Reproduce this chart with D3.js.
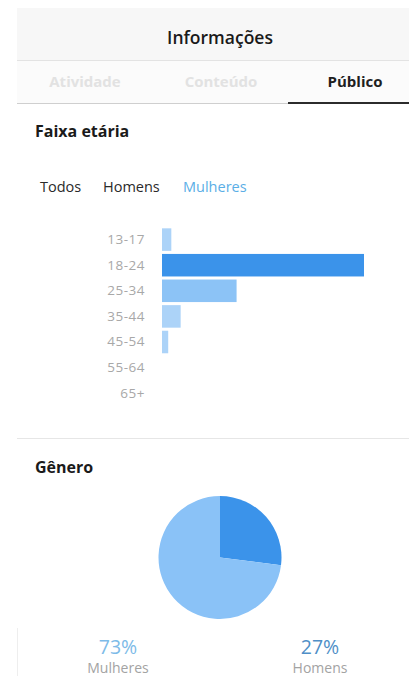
<!DOCTYPE html>
<html><head><meta charset="utf-8">
<script src="https://cdn.jsdelivr.net/npm/d3@7"></script>
<style>
html,body{margin:0;padding:0;background:#fff;}
svg{display:block;font-family:"Open Sans","Noto Sans",sans-serif;}
</style></head>
<body>
<svg id="c" width="409" height="676"></svg>
<script>
// ---- data ----
const tabs = ["Atividade", "Conteúdo", "Público"];
const filters = ["Todos", "Homens", "Mulheres"];
const ageGroups = ["13-17", "18-24", "25-34", "35-44", "45-54", "55-64", "65+"];
const ageValues = [3, 65, 24, 6, 2, 0, 0];
const genders = ["Homens", "Mulheres"];
const genderValues = [27, 73];

const svg = d3.select("#c");

// header
svg.append("rect").attr("x",17).attr("y",8).attr("width",392).attr("height",52).attr("fill","#f7f7f7");
svg.append("rect").attr("x",17).attr("y",60).attr("width",392).attr("height",43).attr("fill","#fbfbfb");
svg.append("line").attr("x1",17).attr("x2",409).attr("y1",60.5).attr("y2",60.5).attr("stroke","#e3e3e3");
svg.append("line").attr("x1",17).attr("x2",409).attr("y1",103.5).attr("y2",103.5).attr("stroke","#cfcfcf");
svg.append("text").attr("x",220).attr("y",44).attr("text-anchor","middle")
  .attr("font-size",17.5).attr("font-weight",600).attr("fill","#1a1a1a").text("Informações");

const tabX = [85, 221, 355];
svg.selectAll("text.tab").data(tabs).join("text").attr("class","tab")
  .attr("x",(d,i)=>tabX[i]).attr("y",87).attr("text-anchor","middle")
  .attr("font-size",15).attr("font-weight",700)
  .attr("fill",(d,i)=> i===2 ? "#1f1f1f" : "#e2e2e2").text(d=>d);
svg.append("line").attr("x1",288).attr("x2",409).attr("y1",103).attr("y2",103)
  .attr("stroke","#2b2b2b").attr("stroke-width",2);

// Faixa etária
svg.append("text").attr("x",35).attr("y",137).attr("font-size",16).attr("font-weight",700)
  .attr("fill","#1a1a1a").text("Faixa etária");
const filterX = [40, 103, 183];
svg.selectAll("text.flt").data(filters).join("text").attr("class","flt")
  .attr("x",(d,i)=>filterX[i]).attr("y",192).attr("font-size",14.5)
  .attr("fill",(d,i)=> i===2 ? "#5aaee6" : "#2a2a2a").text(d=>d);

const y = d3.scaleBand().domain(ageGroups).range([226.8, 406]).paddingInner(0.12).paddingOuter(0.06);
const x = d3.scaleLinear().domain([0, d3.max(ageValues)]).range([162, 364]);
const barColor = v => v >= 50 ? "#3b93ea" : (v >= 10 ? "#8cc3f6" : "#acd3f8");

svg.append("g").selectAll("rect").data(ageGroups.map((g,i)=>({g, v:ageValues[i]})).filter(d=>d.v>0))
  .join("rect").attr("x",x(0)).attr("y",d=>y(d.g)).attr("height",y.bandwidth())
  .attr("width",d=>x(d.v)-x(0)).attr("fill",d=>barColor(d.v));

const yAxis = svg.append("g").attr("transform","translate(152,0)")
  .call(d3.axisLeft(y).tickSize(0).tickPadding(7));
yAxis.select(".domain").remove();
yAxis.selectAll("text").attr("font-size",13.5).attr("fill","#a8a8a8")
  .attr("font-family","\"Open Sans\",\"Noto Sans\",sans-serif").attr("letter-spacing","0.5px");

// separator
svg.append("line").attr("x1",17).attr("x2",409).attr("y1",438.5).attr("y2",438.5).attr("stroke","#e6e6e6");

// Gênero
svg.append("text").attr("x",35).attr("y",473).attr("font-size",16).attr("font-weight",700)
  .attr("fill","#1a1a1a").text("Gênero");

const pie = d3.pie().sort(null).value(d=>d.v);
const arc = d3.arc().innerRadius(0).outerRadius(61.5);
const pieColor = {"Homens":"#3b93ea","Mulheres":"#8ac2f7"};
svg.append("g").attr("transform","translate(220,557.5)")
  .selectAll("path").data(pie(genders.map((g,i)=>({g, v:genderValues[i]}))))
  .join("path").attr("d",arc).attr("fill",d=>pieColor[d.data.g]);

// bottom labels
svg.append("line").attr("x1",17.5).attr("x2",17.5).attr("y1",628).attr("y2",676).attr("stroke","#eeeeee");
const legX = {"Mulheres":118, "Homens":320};
const pctColor = {"Mulheres":"#7dbbe8", "Homens":"#4f8fc7"};
const legend = genders.map((g,i)=>({g, v:genderValues[i]}));
svg.selectAll("text.pct").data(legend).join("text").attr("class","pct")
  .attr("x",d=>legX[d.g]).attr("y",654).attr("text-anchor","middle")
  .attr("font-size",19.5).attr("fill",d=>pctColor[d.g]).text(d=>d.v+"%");
svg.selectAll("text.gl").data(legend).join("text").attr("class","gl")
  .attr("x",d=>legX[d.g]).attr("y",673).attr("text-anchor","middle")
  .attr("font-size",14).attr("fill","#a3a3a3").text(d=>d.g);
</script>
</body></html>
